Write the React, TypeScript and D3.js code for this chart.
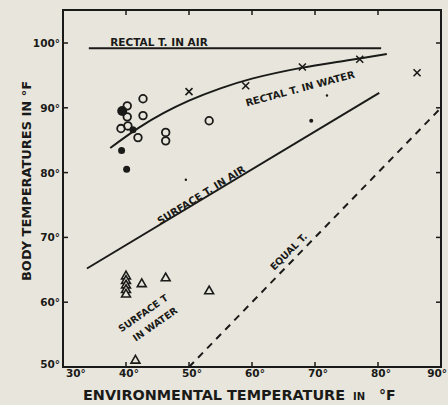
import React from "react";
import * as d3 from "d3";

const xTicks = [30, 40, 50, 60, 70, 80, 90];
const yTicks = [50, 60, 70, 80, 90, 100];

// Rectal T. in air (horizontal line)
const rectalAir = [
  { x: 34.1, y: 99.2 },
  { x: 80.5, y: 99.2 },
];
// Rectal T. in water fitted curve
const rectalWaterCurve = [
  { x: 37.5, y: 83.8 },
  { x: 42, y: 86.9 },
  { x: 46, y: 89.2 },
  { x: 50, y: 91.1 },
  { x: 55, y: 93.0 },
  { x: 60, y: 94.5 },
  { x: 68, y: 96.2 },
  { x: 75, y: 97.3 },
  { x: 81.4, y: 98.3 },
];
const rectalWaterX = [
  { x: 50, y: 92.5 },
  { x: 59, y: 93.4 },
  { x: 68, y: 96.3 },
  { x: 77.1, y: 97.5 },
  { x: 86.2, y: 95.4 },
];
// Surface T. in air line
const surfaceAir = [
  { x: 33.8, y: 65.2 },
  { x: 80.2, y: 92.3 },
];
// Equal T. line
const equalT = [
  { x: 50, y: 50 },
  { x: 89.8, y: 89.8 },
];
const openCircles = [
  { x: 40.2, y: 90.3 },
  { x: 42.7, y: 91.4 },
  { x: 40.2, y: 88.6 },
  { x: 42.7, y: 88.8 },
  { x: 39.2, y: 86.8 },
  { x: 40.3, y: 87.2 },
  { x: 41.9, y: 85.4 },
  { x: 46.3, y: 86.2 },
  { x: 46.3, y: 84.9 },
  { x: 53.2, y: 88.0 },
];
const filledCircles = [
  { x: 39.4, y: 89.5, r: 5 },
  { x: 41.1, y: 86.6, r: 3.5 },
  { x: 39.3, y: 83.4, r: 3.5 },
  { x: 40.1, y: 80.5, r: 3.5 },
  { x: 69.4, y: 88.0, r: 2 },
  { x: 49.5, y: 78.9, r: 1.2 },
  { x: 71.9, y: 91.9, r: 1.2 },
];
const triangles = [
  { x: 40, y: 64.0 },
  { x: 40, y: 63.3 },
  { x: 40, y: 62.6 },
  { x: 40, y: 61.9 },
  { x: 40, y: 61.2 },
  { x: 42.5, y: 62.8 },
  { x: 46.3, y: 63.7 },
  { x: 53.2, y: 61.7 },
  { x: 41.5, y: 51.0 },
];

const W = 448;
const H = 405;
const L = 63, R = 441, T = 10, B = 367;
const ink = "#1a1a18";
const bg = "#e8e6dc";
const font = "'DejaVu Sans', sans-serif";

export default function App() {
  const x = d3.scaleLinear().domain([30, 90]).range([L, R]);
  const y = d3.scaleLinear().domain([50, 100]).range([367, 43]);
  const line = d3
    .line<{ x: number; y: number }>()
    .x((d) => x(d.x))
    .y((d) => y(d.y));
  const curve = d3
    .line<{ x: number; y: number }>()
    .x((d) => x(d.x))
    .y((d) => y(d.y))
    .curve(d3.curveCatmullRom);
  const tri = d3.symbol().type(d3.symbolTriangle).size(34);

  return (
    <svg
      width={W}
      height={H}
      style={{ position: "absolute", left: 0, top: 0, background: bg }}
    >
      <rect x={0} y={0} width={W} height={H} fill={bg} />
      {/* frame */}
      <rect x={L} y={T} width={R - L} height={B - T} fill="none" stroke={ink} strokeWidth={2} />
      {/* ticks */}
      {xTicks.slice(1, -1).map((t) => (
        <g key={"xt" + t}>
          <line x1={x(t)} x2={x(t)} y1={B} y2={B - 5} stroke={ink} strokeWidth={1.5} />
          <line x1={x(t)} x2={x(t)} y1={T} y2={T + 5} stroke={ink} strokeWidth={1.5} />
        </g>
      ))}
      {yTicks.slice(1).map((t) => (
        <g key={"yt" + t}>
          <line x1={L} x2={L + 5} y1={y(t)} y2={y(t)} stroke={ink} strokeWidth={1.5} />
          <line x1={R} x2={R - 5} y1={y(t)} y2={y(t)} stroke={ink} strokeWidth={1.5} />
        </g>
      ))}
      {/* tick labels */}
      {xTicks.map((t, i) => (
        <text
          key={"xl" + t}
          x={i === xTicks.length - 1 ? W - 1 : x(t) + 3}
          y={377}
          textAnchor={i === xTicks.length - 1 ? "end" : i === 0 ? "start" : "middle"}
          fontFamily={font}
          fontWeight="bold"
          fontSize={10.5}
          fill={ink}
        >
          {t + "°"}
        </text>
      ))}
      {yTicks.map((t) => (
        <text
          key={"yl" + t}
          x={L - 3}
          y={y(t) + (t === 50 ? 1 : 4)}
          textAnchor="end"
          fontFamily={font}
          fontWeight="bold"
          fontSize={10.5}
          fill={ink}
        >
          {t + "°"}
        </text>
      ))}
      {/* lines */}
      <path d={line(rectalAir) || ""} fill="none" stroke={ink} strokeWidth={2} />
      <path d={curve(rectalWaterCurve) || ""} fill="none" stroke={ink} strokeWidth={2} />
      <path d={line(surfaceAir) || ""} fill="none" stroke={ink} strokeWidth={2} />
      <path
        d={line(equalT) || ""}
        fill="none"
        stroke={ink}
        strokeWidth={2}
        strokeDasharray="7,6"
      />
      {/* markers */}
      {rectalWaterX.map((d, i) => (
        <g key={"x" + i} transform={`translate(${x(d.x)},${y(d.y)})`} stroke={ink} strokeWidth={1.6}>
          <line x1={-3.5} y1={-3.5} x2={3.5} y2={3.5} />
          <line x1={-3.5} y1={3.5} x2={3.5} y2={-3.5} />
        </g>
      ))}
      {openCircles.map((d, i) => (
        <circle key={"o" + i} cx={x(d.x)} cy={y(d.y)} r={3.8} fill="none" stroke={ink} strokeWidth={1.8} />
      ))}
      {filledCircles.map((d, i) => (
        <circle key={"f" + i} cx={x(d.x)} cy={y(d.y)} r={d.r} fill={ink} />
      ))}
      {triangles.map((d, i) => (
        <path
          key={"t" + i}
          d={tri() || ""}
          transform={`translate(${x(d.x)},${y(d.y)})`}
          fill={bg}
          stroke={ink}
          strokeWidth={1.6}
        />
      ))}
      {/* curve labels */}
      <text x={159} y={46} textAnchor="middle" fontFamily={font} fontWeight="bold" fontSize={10.5} fill={ink}>
        RECTAL T. IN AIR
      </text>
      <text
        transform="translate(301,92) rotate(-15)"
        textAnchor="middle"
        fontFamily={font}
        fontWeight="bold"
        fontSize={10}
        fill={ink}
      >
        RECTAL T. IN WATER
      </text>
      <text
        transform="translate(203,198) rotate(-32)"
        textAnchor="middle"
        fontFamily={font}
        fontWeight="bold"
        fontSize={10}
        fill={ink}
      >
        SURFACE T. IN AIR
      </text>
      <text
        transform="translate(145,316) rotate(-35)"
        textAnchor="middle"
        fontFamily={font}
        fontWeight="bold"
        fontSize={9.5}
        fill={ink}
      >
        SURFACE T
      </text>
      <text
        transform="translate(157,327) rotate(-35)"
        textAnchor="middle"
        fontFamily={font}
        fontWeight="bold"
        fontSize={9.5}
        fill={ink}
      >
        IN WATER
      </text>
      <text
        transform="translate(291,254) rotate(-45)"
        textAnchor="middle"
        fontFamily={font}
        fontWeight="bold"
        fontSize={9.5}
        fill={ink}
      >
        EQUAL T.
      </text>
      {/* axis titles */}
      <text
        transform="translate(31,181) rotate(-90)"
        textAnchor="middle"
        fontFamily={font}
        fontWeight="bold"
        fontSize={13}
        fill={ink}
        textLength={200}
        lengthAdjust="spacingAndGlyphs"
      >
        BODY TEMPERATURES IN °F
      </text>
      <text
        x={83}
        y={400}
        fontFamily={font}
        fontWeight="bold"
        fontSize={14}
        fill={ink}
        textLength={262}
        lengthAdjust="spacingAndGlyphs"
      >
        ENVIRONMENTAL TEMPERATURE
      </text>
      <text x={353} y={400} fontFamily={font} fontWeight="bold" fontSize={10} fill={ink}>
        IN
      </text>
      <text x={379} y={400} fontFamily={font} fontWeight="bold" fontSize={14} fill={ink}>
        °F
      </text>
    </svg>
  );
}
